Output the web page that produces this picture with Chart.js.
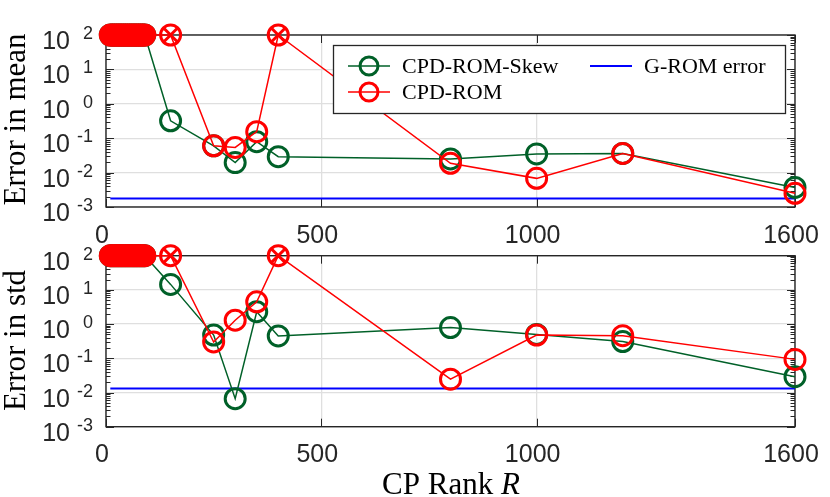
<!DOCTYPE html>
<html>
<head>
<meta charset="utf-8">
<script src="https://cdn.jsdelivr.net/npm/chart.js@4.4.0/dist/chart.umd.min.js"></script>
<style>
html,body{margin:0;padding:0;background:#fff;}
#wrap{position:relative;width:830px;height:497px;overflow:hidden;}
#wrap canvas{position:absolute;left:0;top:0;}
</style>
</head>
<body>
<div id="wrap">
<canvas id="c2" width="830" height="497"></canvas>
<canvas id="c1" width="830" height="497"></canvas>
</div>
<script>
// ---------------- data ----------------
const CAP = 100;
const ranks = [10,15,20,25,30,35,40,45,50,55,60,65,70,75,80,85,90,150,250,300,350,400,800,1000,1200,1600];
const skewMean = [100,100,100,100,100,100,100,100,100,100,100,100,100,100,100,100,100, 0.32, 0.06, 0.0195, 0.079, 0.029, 0.025, 0.035, 0.036, 0.0037];
const romMean  = [100,100,100,100,100,100,100,100,100,100,100,100,100,100,100,100,100, 100, 0.06, 0.054, 0.155, 100, 0.0186, 0.0068, 0.036, 0.0025];
const skewStd  = [100,100,100,100,100,100,100,100,100,100,100,100,100,100,100,100,100, 14.5, 0.48, 0.0066, 2.3, 0.45, 0.79, 0.5, 0.31, 0.029];
const romStd   = [100,100,100,100,100,100,100,100,100,100,100,100,100,100,100,100,100, 100, 0.3, 1.3, 4.5, 100, 0.0245, 0.48, 0.46, 0.093];
const gromRange = [10, 1600];
const gromMean = 0.00178;
const gromStd = 0.0132;
const xTicks = [0, 500, 1000, 1600];
const yExponents = [-3, -2, -1, 0, 1, 2];
const seriesNames = ['CPD-ROM-Skew', 'CPD-ROM', 'G-ROM error'];

// ---------------- style ----------------
const GREEN = 'rgb(0,96,40)', RED = '#ff0000', BLUE = '#0000ff', AX = '#262626', GRID = '#dfdfdf';
const L = 106, R = 795;

function pts(vals){ return ranks.map((r,i)=>({x:r, y:vals[i]})); }
function cappedPts(vals){ return pts(vals).filter(p => p.y >= CAP); }

function decoPlugin(g){
  return {
    id: 'deco_' + g.id,
    beforeDatasetsDraw(chart){
      const ctx = chart.ctx, a = chart.chartArea, ys = chart.scales.y, xs = chart.scales.x;
      ctx.save();
      ctx.strokeStyle = AX; ctx.lineWidth = 1;
      ctx.beginPath();
      for (let d = yExponents[0]; d < yExponents[yExponents.length-1]; d++){
        for (let m = 2; m <= 9; m++){
          const y = Math.round(ys.getPixelForValue(m*Math.pow(10,d))) + 0.5;
          ctx.moveTo(a.left, y); ctx.lineTo(a.left+4.5, y);
          ctx.moveTo(a.right, y); ctx.lineTo(a.right-4.5, y);
        }
      }
      yExponents.forEach(k => {
        const y = Math.round(ys.getPixelForValue(Math.pow(10,k))) + 0.5;
        ctx.moveTo(a.left, y); ctx.lineTo(a.left+8, y);
        ctx.moveTo(a.right, y); ctx.lineTo(a.right-8, y);
      });
      xTicks.forEach(v => {
        const x = Math.round(xs.getPixelForValue(v)) + 0.5;
        ctx.moveTo(x, a.bottom); ctx.lineTo(x, a.bottom-8);
        ctx.moveTo(x, a.top); ctx.lineTo(x, a.top+8);
      });
      ctx.stroke();
      ctx.lineWidth = 1.4;
      ctx.strokeRect(a.left, a.top, a.right-a.left, a.bottom-a.top);
      ctx.restore();
    },
    afterDatasetsDraw(chart){
      if (!g.legend) return;
      const ctx = chart.ctx;
      ctx.save();
      ctx.fillStyle = '#fff'; ctx.strokeStyle = AX; ctx.lineWidth = 1.3;
      ctx.fillRect(333.5, 45.5, 452, 68);
      ctx.strokeRect(333.5, 45.5, 452, 68);
      const rows = [
        {c: GREEN, y: 66, x0: 348, name: seriesNames[0], marker: true},
        {c: RED, y: 92, x0: 348, name: seriesNames[1], marker: true},
        {c: BLUE, y: 66, x0: 590, name: seriesNames[2], marker: false}
      ];
      rows.forEach(r => {
        ctx.strokeStyle = r.c; ctx.lineWidth = r.marker ? 1.5 : 2;
        ctx.beginPath(); ctx.moveTo(r.x0, r.y); ctx.lineTo(r.x0+42, r.y); ctx.stroke();
        if (r.marker){
          ctx.lineWidth = 3;
          ctx.beginPath(); ctx.arc(r.x0+21, r.y, 9, 0, Math.PI*2); ctx.stroke();
        }
        ctx.fillStyle = '#000';
        ctx.font = '22px "Liberation Serif"';
        ctx.textAlign = 'left'; ctx.textBaseline = 'alphabetic';
        ctx.fillText(r.name, r.x0+54, r.y+7);
      });
      ctx.restore();
    },
    afterDraw(chart){
      const ctx = chart.ctx, ys = chart.scales.y;
      ctx.save();
      ctx.fillStyle = AX;
      ctx.textBaseline = 'alphabetic';
      yExponents.forEach(k => {
        const y = ys.getPixelForValue(Math.pow(10,k));
        ctx.textAlign = 'right';
        ctx.font = '25px "Liberation Sans"';
        ctx.fillText('10', 70, y+14);
        ctx.font = '18px "Liberation Sans"';
        ctx.fillText(String(k), 93, y+4);
      });
      // y title
      ctx.fillStyle = '#000';
      ctx.font = '31px "Liberation Serif"';
      ctx.textAlign = 'center';
      ctx.translate(25, g.yTitleY);
      ctx.rotate(-Math.PI/2);
      ctx.fillText(g.yTitle, 0, 0);
      ctx.setTransform(1,0,0,1,0,0);
      if (g.xTitle){
        ctx.textAlign = 'left';
        const f1 = '31px "Liberation Serif"', f2 = 'italic 31px "Liberation Serif"';
        ctx.font = f1; const w1 = ctx.measureText('CP Rank ').width;
        ctx.font = f2; const w2 = ctx.measureText('R').width;
        const x0 = 451 - (w1+w2)/2;
        ctx.font = f1; ctx.fillText('CP Rank ', x0, 494);
        ctx.font = f2; ctx.fillText('R', x0+w1, 494);
      }
      ctx.restore();
    }
  };
}

function makeChart(id, skew, rom, grom, g){
  const lineDs = (label, vals, color, order) => ({
    label, data: pts(vals), borderColor: color, backgroundColor: 'transparent',
    borderWidth: 1.5, pointRadius: 10, pointBorderWidth: 3, pointStyle: 'circle',
    pointBackgroundColor: 'transparent', pointBorderColor: color, fill: false,
    tension: 0, clip: false, order
  });
  return new Chart(document.getElementById(id), {
    type: 'line',
    data: {
      datasets: [
        {label: 'x', data: cappedPts(rom), showLine: false, pointStyle: 'crossRot',
         pointRadius: 9.5, pointBorderWidth: 3, pointBorderColor: RED, borderColor: RED, clip: false, order: 0},
        lineDs(seriesNames[1], rom, RED, 1),
        lineDs(seriesNames[0], skew, GREEN, 2),
        {label: seriesNames[2], data: gromRange.map(x => ({x, y: grom})), borderColor: BLUE,
         borderWidth: 2, pointRadius: 0, clip: false, order: 3}
      ]
    },
    options: {
      responsive: false, animation: false, devicePixelRatio: 1,
      events: [],
      layout: {padding: {left: 0, right: 830-R, top: g.top, bottom: 497 - g.bottom - g.xH}},
      plugins: {legend: {display: false}, tooltip: {enabled: false}, title: {display: false}},
      scales: {
        x: {
          type: 'linear', min: 0, max: 1600,
          afterBuildTicks: s => { s.ticks = xTicks.map(v => ({value: v})); },
          afterFit: s => { s.height = g.xH; s.paddingLeft = 0; s.paddingRight = 0; s.paddingTop = 0; s.paddingBottom = 0; },
          grid: {color: GRID, lineWidth: 1.3, drawTicks: false},
          border: {display: false},
          ticks: {font: {family: 'Liberation Sans', size: 25}, color: AX, padding: g.xPad,
                  labelOffset: -4, maxRotation: 0, autoSkip: false,
                  callback: v => String(v)}
        },
        y: {
          type: 'logarithmic', min: 1e-3, max: 1e2,
          afterBuildTicks: s => { s.ticks = yExponents.map(k => ({value: Math.pow(10,k)})); },
          afterFit: s => { s.width = L; s.paddingLeft = 0; s.paddingRight = 0; s.paddingTop = 0; s.paddingBottom = 0; },
          grid: {color: GRID, lineWidth: 1.3, drawTicks: false},
          border: {display: false},
          ticks: {display: false}
        }
      }
    },
    plugins: [decoPlugin(g)]
  });
}

makeChart('c1', skewMean, romMean, gromMean,
  {id: 'top', top: 35, bottom: 207, xH: 38, xPad: 14, legend: true, yTitle: 'Error in mean', yTitleY: 119.5, xTitle: false});
makeChart('c2', skewStd, romStd, gromStd,
  {id: 'bot', top: 255.7, bottom: 426.7, xH: 40, xPad: 13, legend: false, yTitle: 'Error in std', yTitleY: 340.5, xTitle: true});
</script>
</body>
</html>
